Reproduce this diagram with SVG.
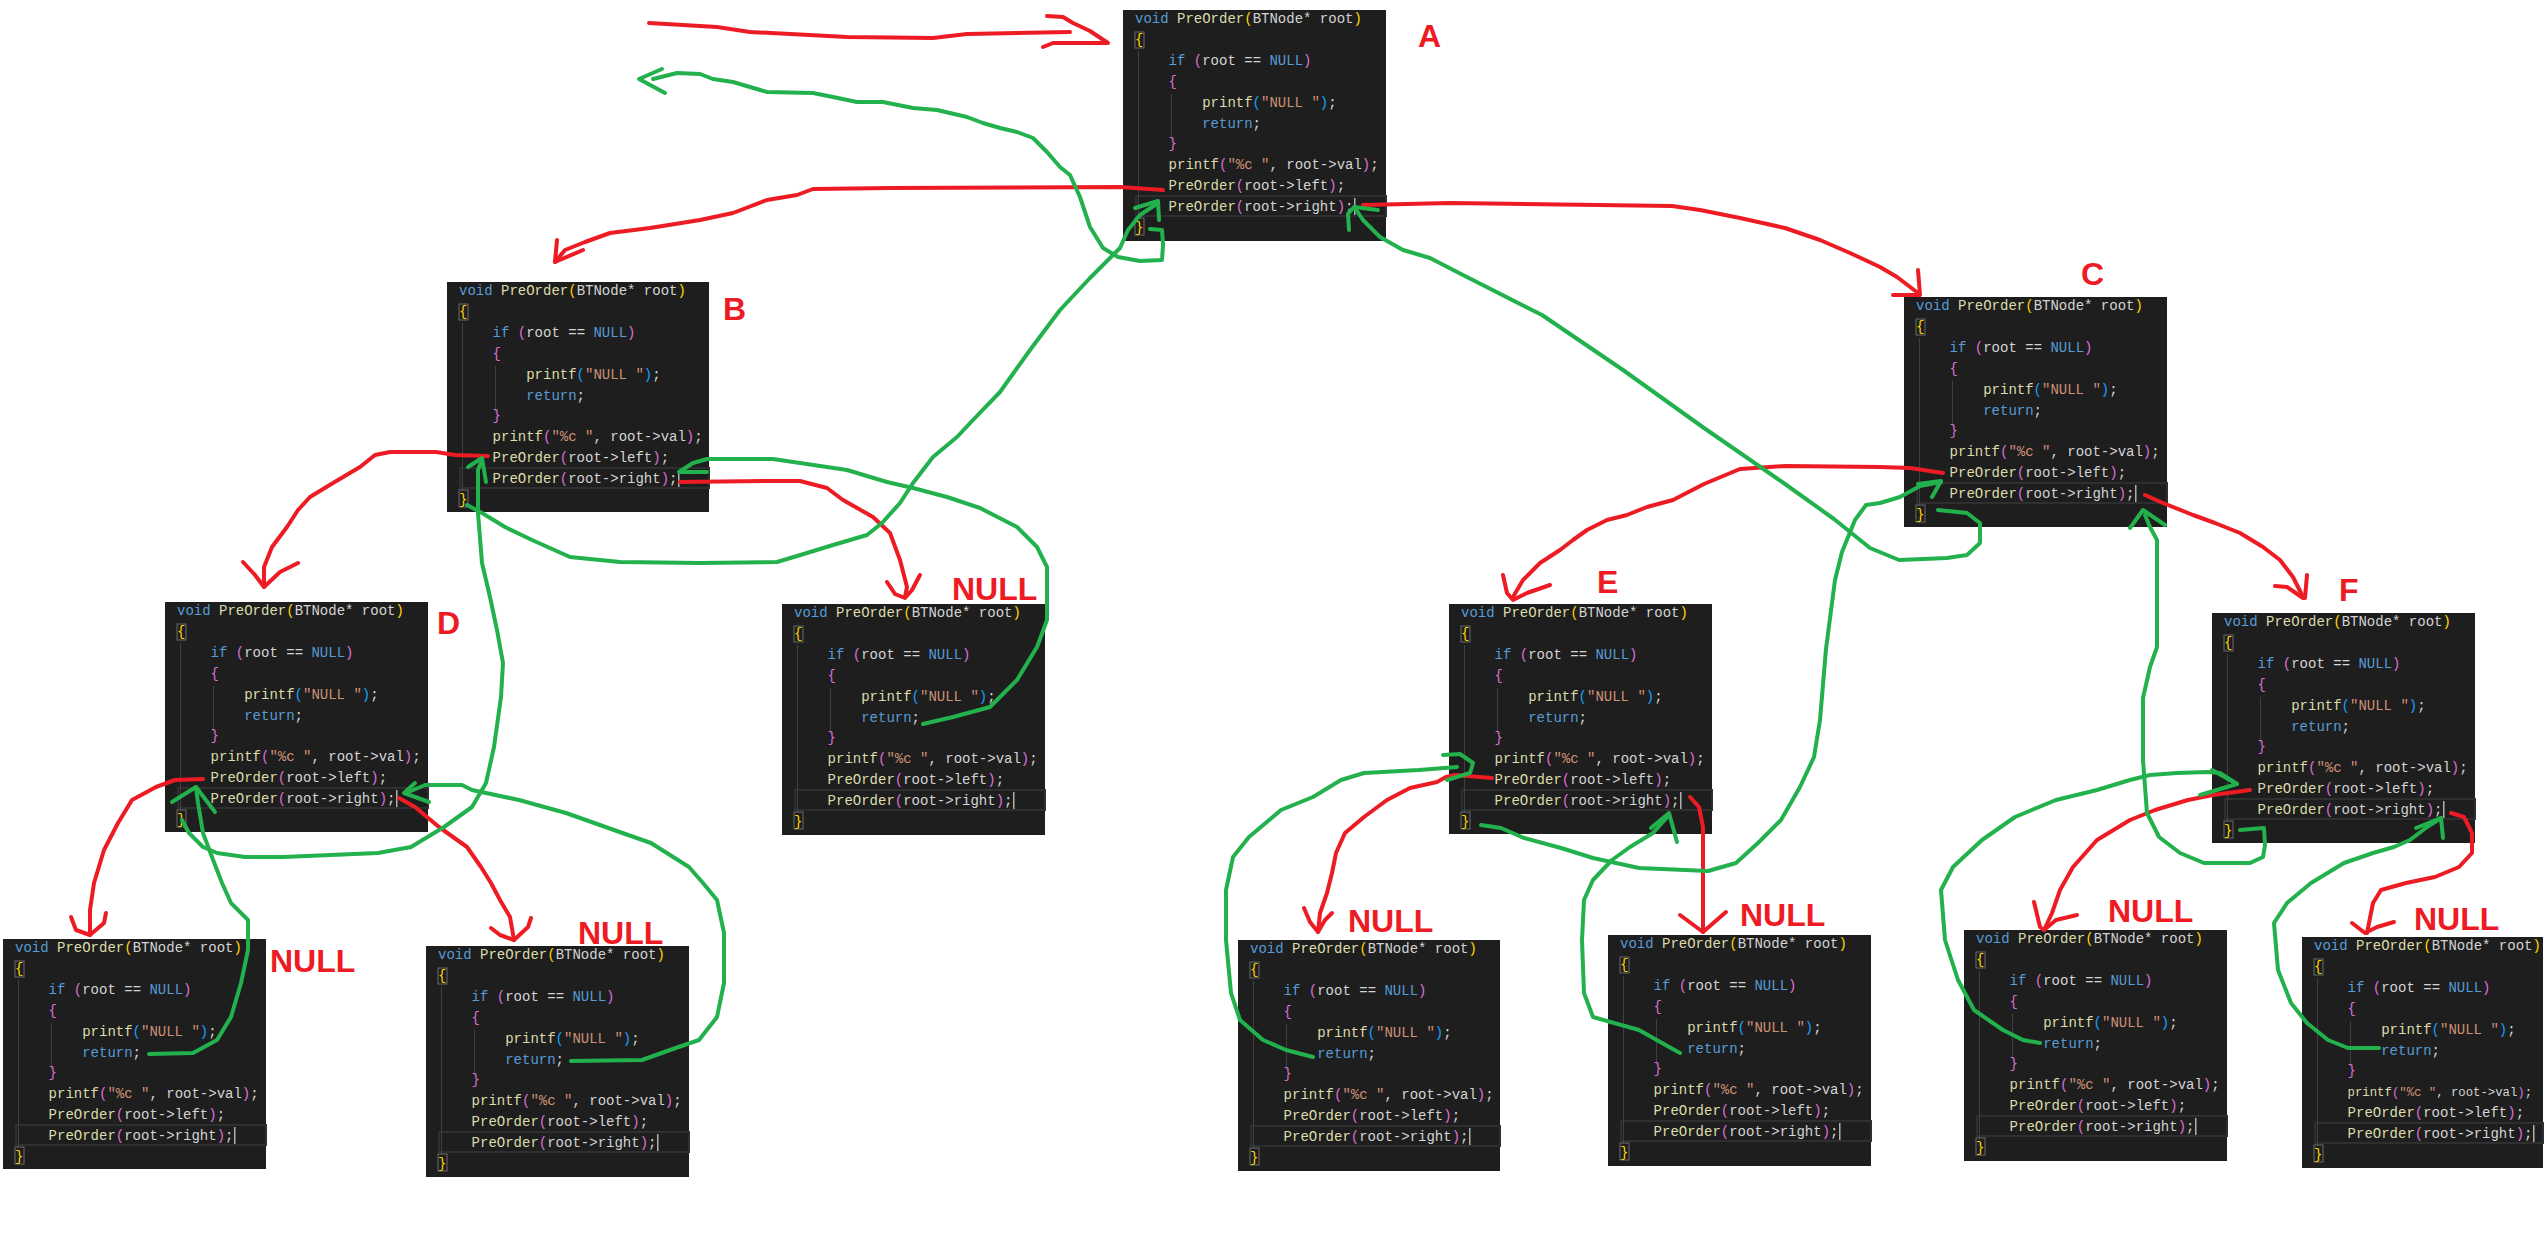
<svg xmlns="http://www.w3.org/2000/svg" xmlns:xlink="http://www.w3.org/1999/xlink" width="2545" height="1255" viewBox="0 0 2545 1255">
<style>
.bg{fill:#1e1e1e}
.cur{fill:none;stroke:#2f2f2f;stroke-width:2}
.guide{stroke:#404040;stroke-width:1;fill:none}
.bm{fill:none;stroke:#6a6a6a;stroke-width:1}
.caret{fill:#aeafad}
.code{font-family:"Liberation Mono","DejaVu Sans Mono",monospace;font-size:14px;fill:#d4d4d4;white-space:pre}
.k{fill:#569cd6}
.f{fill:#dcdcaa}
.b1{fill:#ffd700}
.b2{fill:#da70d6}
.b3{fill:#179fff}
.s{fill:#ce9178}
.lbl{font-family:"Liberation Sans",Arial,sans-serif;font-weight:bold;font-size:32px;fill:#ed1c24}
.r{fill:none;stroke:#ed1c24;stroke-width:4;stroke-linejoin:round;stroke-linecap:round}
.g{fill:none;stroke:#22b14c;stroke-width:4;stroke-linejoin:round;stroke-linecap:round}
</style>
<rect width="2545" height="1255" fill="#ffffff"/>

<g id="node-A">
<g transform="translate(1123,10)">
<rect class="bg" width="263" height="231"/>
<rect class="cur" x="13" y="186" width="250" height="20"/>
<path class="guide" d="M15.5,41V209M48.5,84V130"/>
<rect class="bm" x="12" y="22" width="9" height="16"/><rect class="bm" x="12" y="208" width="9" height="17"/>
<rect class="caret" x="231" y="188" width="1.5" height="17"/>
<text class="code" x="12" y="13"><tspan class="k">void</tspan> <tspan class="f">PreOrder</tspan><tspan class="b1">(</tspan>BTNode* root<tspan class="b1">)</tspan></text>
<text class="code b1" x="12" y="34">{</text>
<text class="code" x="45.6" y="55"><tspan class="k">if</tspan> <tspan class="b2">(</tspan>root == <tspan class="k">NULL</tspan><tspan class="b2">)</tspan></text>
<text class="code b2" x="45.6" y="76">{</text>
<text class="code" x="79.2" y="97"><tspan class="f">printf</tspan><tspan class="b3">(</tspan><tspan class="s">"NULL "</tspan><tspan class="b3">)</tspan>;</text>
<text class="code" x="79.2" y="118"><tspan class="k">return</tspan>;</text>
<text class="code b2" x="45.6" y="138">}</text>
<text class="code" x="45.6" y="159"><tspan class="f">printf</tspan><tspan class="b2">(</tspan><tspan class="s">"%c "</tspan>, root-&gt;val<tspan class="b2">)</tspan>;</text>
<text class="code" x="45.6" y="180"><tspan class="f">PreOrder</tspan><tspan class="b2">(</tspan>root-&gt;left<tspan class="b2">)</tspan>;</text>
<text class="code" x="45.6" y="201"><tspan class="f">PreOrder</tspan><tspan class="b2">(</tspan>root-&gt;right<tspan class="b2">)</tspan>;</text>
<text class="code b1" x="12" y="222">}</text>
</g>
<text class="lbl" x="1418" y="47">A</text>
</g>

<g id="node-B">
<g transform="translate(447,282)">
<rect class="bg" width="262" height="230"/>
<rect class="cur" x="13" y="186" width="249" height="20"/>
<path class="guide" d="M15.5,41V209M48.5,84V130"/>
<rect class="bm" x="12" y="22" width="9" height="16"/><rect class="bm" x="12" y="208" width="9" height="17"/>
<rect class="caret" x="231" y="188" width="1.5" height="17"/>
<text class="code" x="12" y="13"><tspan class="k">void</tspan> <tspan class="f">PreOrder</tspan><tspan class="b1">(</tspan>BTNode* root<tspan class="b1">)</tspan></text>
<text class="code b1" x="12" y="34">{</text>
<text class="code" x="45.6" y="55"><tspan class="k">if</tspan> <tspan class="b2">(</tspan>root == <tspan class="k">NULL</tspan><tspan class="b2">)</tspan></text>
<text class="code b2" x="45.6" y="76">{</text>
<text class="code" x="79.2" y="97"><tspan class="f">printf</tspan><tspan class="b3">(</tspan><tspan class="s">"NULL "</tspan><tspan class="b3">)</tspan>;</text>
<text class="code" x="79.2" y="118"><tspan class="k">return</tspan>;</text>
<text class="code b2" x="45.6" y="138">}</text>
<text class="code" x="45.6" y="159"><tspan class="f">printf</tspan><tspan class="b2">(</tspan><tspan class="s">"%c "</tspan>, root-&gt;val<tspan class="b2">)</tspan>;</text>
<text class="code" x="45.6" y="180"><tspan class="f">PreOrder</tspan><tspan class="b2">(</tspan>root-&gt;left<tspan class="b2">)</tspan>;</text>
<text class="code" x="45.6" y="201"><tspan class="f">PreOrder</tspan><tspan class="b2">(</tspan>root-&gt;right<tspan class="b2">)</tspan>;</text>
<text class="code b1" x="12" y="222">}</text>
</g>
<text class="lbl" x="723" y="320">B</text>
</g>

<g id="node-C">
<g transform="translate(1904,297)">
<rect class="bg" width="263" height="230"/>
<rect class="cur" x="13" y="186" width="250" height="20"/>
<path class="guide" d="M15.5,41V209M48.5,84V130"/>
<rect class="bm" x="12" y="22" width="9" height="16"/><rect class="bm" x="12" y="208" width="9" height="17"/>
<rect class="caret" x="231" y="188" width="1.5" height="17"/>
<text class="code" x="12" y="13"><tspan class="k">void</tspan> <tspan class="f">PreOrder</tspan><tspan class="b1">(</tspan>BTNode* root<tspan class="b1">)</tspan></text>
<text class="code b1" x="12" y="34">{</text>
<text class="code" x="45.6" y="55"><tspan class="k">if</tspan> <tspan class="b2">(</tspan>root == <tspan class="k">NULL</tspan><tspan class="b2">)</tspan></text>
<text class="code b2" x="45.6" y="76">{</text>
<text class="code" x="79.2" y="97"><tspan class="f">printf</tspan><tspan class="b3">(</tspan><tspan class="s">"NULL "</tspan><tspan class="b3">)</tspan>;</text>
<text class="code" x="79.2" y="118"><tspan class="k">return</tspan>;</text>
<text class="code b2" x="45.6" y="138">}</text>
<text class="code" x="45.6" y="159"><tspan class="f">printf</tspan><tspan class="b2">(</tspan><tspan class="s">"%c "</tspan>, root-&gt;val<tspan class="b2">)</tspan>;</text>
<text class="code" x="45.6" y="180"><tspan class="f">PreOrder</tspan><tspan class="b2">(</tspan>root-&gt;left<tspan class="b2">)</tspan>;</text>
<text class="code" x="45.6" y="201"><tspan class="f">PreOrder</tspan><tspan class="b2">(</tspan>root-&gt;right<tspan class="b2">)</tspan>;</text>
<text class="code b1" x="12" y="222">}</text>
</g>
<text class="lbl" x="2081" y="285">C</text>
</g>

<g id="node-D">
<g transform="translate(165,602)">
<rect class="bg" width="263" height="230"/>
<rect class="cur" x="13" y="186" width="250" height="20"/>
<path class="guide" d="M15.5,41V209M48.5,84V130"/>
<rect class="bm" x="12" y="22" width="9" height="16"/><rect class="bm" x="12" y="208" width="9" height="17"/>
<rect class="caret" x="231" y="188" width="1.5" height="17"/>
<text class="code" x="12" y="13"><tspan class="k">void</tspan> <tspan class="f">PreOrder</tspan><tspan class="b1">(</tspan>BTNode* root<tspan class="b1">)</tspan></text>
<text class="code b1" x="12" y="34">{</text>
<text class="code" x="45.6" y="55"><tspan class="k">if</tspan> <tspan class="b2">(</tspan>root == <tspan class="k">NULL</tspan><tspan class="b2">)</tspan></text>
<text class="code b2" x="45.6" y="76">{</text>
<text class="code" x="79.2" y="97"><tspan class="f">printf</tspan><tspan class="b3">(</tspan><tspan class="s">"NULL "</tspan><tspan class="b3">)</tspan>;</text>
<text class="code" x="79.2" y="118"><tspan class="k">return</tspan>;</text>
<text class="code b2" x="45.6" y="138">}</text>
<text class="code" x="45.6" y="159"><tspan class="f">printf</tspan><tspan class="b2">(</tspan><tspan class="s">"%c "</tspan>, root-&gt;val<tspan class="b2">)</tspan>;</text>
<text class="code" x="45.6" y="180"><tspan class="f">PreOrder</tspan><tspan class="b2">(</tspan>root-&gt;left<tspan class="b2">)</tspan>;</text>
<text class="code" x="45.6" y="201"><tspan class="f">PreOrder</tspan><tspan class="b2">(</tspan>root-&gt;right<tspan class="b2">)</tspan>;</text>
<text class="code b1" x="12" y="222">}</text>
</g>
<text class="lbl" x="437" y="634">D</text>
</g>

<g id="node-B-right-null">
<g transform="translate(782,604)">
<rect class="bg" width="263" height="231"/>
<rect class="cur" x="13" y="186" width="250" height="20"/>
<path class="guide" d="M15.5,41V209M48.5,84V130"/>
<rect class="bm" x="12" y="22" width="9" height="16"/><rect class="bm" x="12" y="208" width="9" height="17"/>
<rect class="caret" x="231" y="188" width="1.5" height="17"/>
<text class="code" x="12" y="13"><tspan class="k">void</tspan> <tspan class="f">PreOrder</tspan><tspan class="b1">(</tspan>BTNode* root<tspan class="b1">)</tspan></text>
<text class="code b1" x="12" y="34">{</text>
<text class="code" x="45.6" y="55"><tspan class="k">if</tspan> <tspan class="b2">(</tspan>root == <tspan class="k">NULL</tspan><tspan class="b2">)</tspan></text>
<text class="code b2" x="45.6" y="76">{</text>
<text class="code" x="79.2" y="97"><tspan class="f">printf</tspan><tspan class="b3">(</tspan><tspan class="s">"NULL "</tspan><tspan class="b3">)</tspan>;</text>
<text class="code" x="79.2" y="118"><tspan class="k">return</tspan>;</text>
<text class="code b2" x="45.6" y="138">}</text>
<text class="code" x="45.6" y="159"><tspan class="f">printf</tspan><tspan class="b2">(</tspan><tspan class="s">"%c "</tspan>, root-&gt;val<tspan class="b2">)</tspan>;</text>
<text class="code" x="45.6" y="180"><tspan class="f">PreOrder</tspan><tspan class="b2">(</tspan>root-&gt;left<tspan class="b2">)</tspan>;</text>
<text class="code" x="45.6" y="201"><tspan class="f">PreOrder</tspan><tspan class="b2">(</tspan>root-&gt;right<tspan class="b2">)</tspan>;</text>
<text class="code b1" x="12" y="222">}</text>
</g>
<text class="lbl" x="952" y="600">NULL</text>
</g>

<g id="node-E">
<g transform="translate(1449,604)">
<rect class="bg" width="263" height="230"/>
<rect class="cur" x="13" y="186" width="250" height="20"/>
<path class="guide" d="M15.5,41V209M48.5,84V130"/>
<rect class="bm" x="12" y="22" width="9" height="16"/><rect class="bm" x="12" y="208" width="9" height="17"/>
<rect class="caret" x="231" y="188" width="1.5" height="17"/>
<text class="code" x="12" y="13"><tspan class="k">void</tspan> <tspan class="f">PreOrder</tspan><tspan class="b1">(</tspan>BTNode* root<tspan class="b1">)</tspan></text>
<text class="code b1" x="12" y="34">{</text>
<text class="code" x="45.6" y="55"><tspan class="k">if</tspan> <tspan class="b2">(</tspan>root == <tspan class="k">NULL</tspan><tspan class="b2">)</tspan></text>
<text class="code b2" x="45.6" y="76">{</text>
<text class="code" x="79.2" y="97"><tspan class="f">printf</tspan><tspan class="b3">(</tspan><tspan class="s">"NULL "</tspan><tspan class="b3">)</tspan>;</text>
<text class="code" x="79.2" y="118"><tspan class="k">return</tspan>;</text>
<text class="code b2" x="45.6" y="138">}</text>
<text class="code" x="45.6" y="159"><tspan class="f">printf</tspan><tspan class="b2">(</tspan><tspan class="s">"%c "</tspan>, root-&gt;val<tspan class="b2">)</tspan>;</text>
<text class="code" x="45.6" y="180"><tspan class="f">PreOrder</tspan><tspan class="b2">(</tspan>root-&gt;left<tspan class="b2">)</tspan>;</text>
<text class="code" x="45.6" y="201"><tspan class="f">PreOrder</tspan><tspan class="b2">(</tspan>root-&gt;right<tspan class="b2">)</tspan>;</text>
<text class="code b1" x="12" y="222">}</text>
</g>
<text class="lbl" x="1597" y="593">E</text>
</g>

<g id="node-F">
<g transform="translate(2212,613)">
<rect class="bg" width="263" height="230"/>
<rect class="cur" x="13" y="186" width="250" height="20"/>
<path class="guide" d="M15.5,41V209M48.5,84V130"/>
<rect class="bm" x="12" y="22" width="9" height="16"/><rect class="bm" x="12" y="208" width="9" height="17"/>
<rect class="caret" x="231" y="188" width="1.5" height="17"/>
<text class="code" x="12" y="13"><tspan class="k">void</tspan> <tspan class="f">PreOrder</tspan><tspan class="b1">(</tspan>BTNode* root<tspan class="b1">)</tspan></text>
<text class="code b1" x="12" y="34">{</text>
<text class="code" x="45.6" y="55"><tspan class="k">if</tspan> <tspan class="b2">(</tspan>root == <tspan class="k">NULL</tspan><tspan class="b2">)</tspan></text>
<text class="code b2" x="45.6" y="76">{</text>
<text class="code" x="79.2" y="97"><tspan class="f">printf</tspan><tspan class="b3">(</tspan><tspan class="s">"NULL "</tspan><tspan class="b3">)</tspan>;</text>
<text class="code" x="79.2" y="118"><tspan class="k">return</tspan>;</text>
<text class="code b2" x="45.6" y="138">}</text>
<text class="code" x="45.6" y="159"><tspan class="f">printf</tspan><tspan class="b2">(</tspan><tspan class="s">"%c "</tspan>, root-&gt;val<tspan class="b2">)</tspan>;</text>
<text class="code" x="45.6" y="180"><tspan class="f">PreOrder</tspan><tspan class="b2">(</tspan>root-&gt;left<tspan class="b2">)</tspan>;</text>
<text class="code" x="45.6" y="201"><tspan class="f">PreOrder</tspan><tspan class="b2">(</tspan>root-&gt;right<tspan class="b2">)</tspan>;</text>
<text class="code b1" x="12" y="222">}</text>
</g>
<text class="lbl" x="2339" y="601">F</text>
</g>

<g id="node-D-left-null">
<g transform="translate(3,939)">
<rect class="bg" width="263" height="230"/>
<rect class="cur" x="13" y="186" width="250" height="20"/>
<path class="guide" d="M15.5,41V209M48.5,84V130"/>
<rect class="bm" x="12" y="22" width="9" height="16"/><rect class="bm" x="12" y="208" width="9" height="17"/>
<rect class="caret" x="231" y="188" width="1.5" height="17"/>
<text class="code" x="12" y="13"><tspan class="k">void</tspan> <tspan class="f">PreOrder</tspan><tspan class="b1">(</tspan>BTNode* root<tspan class="b1">)</tspan></text>
<text class="code b1" x="12" y="34">{</text>
<text class="code" x="45.6" y="55"><tspan class="k">if</tspan> <tspan class="b2">(</tspan>root == <tspan class="k">NULL</tspan><tspan class="b2">)</tspan></text>
<text class="code b2" x="45.6" y="76">{</text>
<text class="code" x="79.2" y="97"><tspan class="f">printf</tspan><tspan class="b3">(</tspan><tspan class="s">"NULL "</tspan><tspan class="b3">)</tspan>;</text>
<text class="code" x="79.2" y="118"><tspan class="k">return</tspan>;</text>
<text class="code b2" x="45.6" y="138">}</text>
<text class="code" x="45.6" y="159"><tspan class="f">printf</tspan><tspan class="b2">(</tspan><tspan class="s">"%c "</tspan>, root-&gt;val<tspan class="b2">)</tspan>;</text>
<text class="code" x="45.6" y="180"><tspan class="f">PreOrder</tspan><tspan class="b2">(</tspan>root-&gt;left<tspan class="b2">)</tspan>;</text>
<text class="code" x="45.6" y="201"><tspan class="f">PreOrder</tspan><tspan class="b2">(</tspan>root-&gt;right<tspan class="b2">)</tspan>;</text>
<text class="code b1" x="12" y="222">}</text>
</g>
<text class="lbl" x="270" y="972">NULL</text>
</g>

<g id="node-D-right-null">
<g transform="translate(426,946)">
<rect class="bg" width="263" height="231"/>
<rect class="cur" x="13" y="186" width="250" height="20"/>
<path class="guide" d="M15.5,41V209M48.5,84V130"/>
<rect class="bm" x="12" y="22" width="9" height="16"/><rect class="bm" x="12" y="208" width="9" height="17"/>
<rect class="caret" x="231" y="188" width="1.5" height="17"/>
<text class="code" x="12" y="13"><tspan class="k">void</tspan> <tspan class="f">PreOrder</tspan><tspan class="b1">(</tspan>BTNode* root<tspan class="b1">)</tspan></text>
<text class="code b1" x="12" y="34">{</text>
<text class="code" x="45.6" y="55"><tspan class="k">if</tspan> <tspan class="b2">(</tspan>root == <tspan class="k">NULL</tspan><tspan class="b2">)</tspan></text>
<text class="code b2" x="45.6" y="76">{</text>
<text class="code" x="79.2" y="97"><tspan class="f">printf</tspan><tspan class="b3">(</tspan><tspan class="s">"NULL "</tspan><tspan class="b3">)</tspan>;</text>
<text class="code" x="79.2" y="118"><tspan class="k">return</tspan>;</text>
<text class="code b2" x="45.6" y="138">}</text>
<text class="code" x="45.6" y="159"><tspan class="f">printf</tspan><tspan class="b2">(</tspan><tspan class="s">"%c "</tspan>, root-&gt;val<tspan class="b2">)</tspan>;</text>
<text class="code" x="45.6" y="180"><tspan class="f">PreOrder</tspan><tspan class="b2">(</tspan>root-&gt;left<tspan class="b2">)</tspan>;</text>
<text class="code" x="45.6" y="201"><tspan class="f">PreOrder</tspan><tspan class="b2">(</tspan>root-&gt;right<tspan class="b2">)</tspan>;</text>
<text class="code b1" x="12" y="222">}</text>
</g>
<text class="lbl" x="578" y="944">NULL</text>
</g>

<g id="node-E-left-null">
<g transform="translate(1238,940)">
<rect class="bg" width="262" height="231"/>
<rect class="cur" x="13" y="186" width="249" height="20"/>
<path class="guide" d="M15.5,41V209M48.5,84V130"/>
<rect class="bm" x="12" y="22" width="9" height="16"/><rect class="bm" x="12" y="208" width="9" height="17"/>
<rect class="caret" x="231" y="188" width="1.5" height="17"/>
<text class="code" x="12" y="13"><tspan class="k">void</tspan> <tspan class="f">PreOrder</tspan><tspan class="b1">(</tspan>BTNode* root<tspan class="b1">)</tspan></text>
<text class="code b1" x="12" y="34">{</text>
<text class="code" x="45.6" y="55"><tspan class="k">if</tspan> <tspan class="b2">(</tspan>root == <tspan class="k">NULL</tspan><tspan class="b2">)</tspan></text>
<text class="code b2" x="45.6" y="76">{</text>
<text class="code" x="79.2" y="97"><tspan class="f">printf</tspan><tspan class="b3">(</tspan><tspan class="s">"NULL "</tspan><tspan class="b3">)</tspan>;</text>
<text class="code" x="79.2" y="118"><tspan class="k">return</tspan>;</text>
<text class="code b2" x="45.6" y="138">}</text>
<text class="code" x="45.6" y="159"><tspan class="f">printf</tspan><tspan class="b2">(</tspan><tspan class="s">"%c "</tspan>, root-&gt;val<tspan class="b2">)</tspan>;</text>
<text class="code" x="45.6" y="180"><tspan class="f">PreOrder</tspan><tspan class="b2">(</tspan>root-&gt;left<tspan class="b2">)</tspan>;</text>
<text class="code" x="45.6" y="201"><tspan class="f">PreOrder</tspan><tspan class="b2">(</tspan>root-&gt;right<tspan class="b2">)</tspan>;</text>
<text class="code b1" x="12" y="222">}</text>
</g>
<text class="lbl" x="1348" y="932">NULL</text>
</g>

<g id="node-E-right-null">
<g transform="translate(1608,935)">
<rect class="bg" width="263" height="231"/>
<rect class="cur" x="13" y="186" width="250" height="20"/>
<path class="guide" d="M15.5,41V209M48.5,84V130"/>
<rect class="bm" x="12" y="22" width="9" height="16"/><rect class="bm" x="12" y="208" width="9" height="17"/>
<rect class="caret" x="231" y="188" width="1.5" height="17"/>
<text class="code" x="12" y="13"><tspan class="k">void</tspan> <tspan class="f">PreOrder</tspan><tspan class="b1">(</tspan>BTNode* root<tspan class="b1">)</tspan></text>
<text class="code b1" x="12" y="34">{</text>
<text class="code" x="45.6" y="55"><tspan class="k">if</tspan> <tspan class="b2">(</tspan>root == <tspan class="k">NULL</tspan><tspan class="b2">)</tspan></text>
<text class="code b2" x="45.6" y="76">{</text>
<text class="code" x="79.2" y="97"><tspan class="f">printf</tspan><tspan class="b3">(</tspan><tspan class="s">"NULL "</tspan><tspan class="b3">)</tspan>;</text>
<text class="code" x="79.2" y="118"><tspan class="k">return</tspan>;</text>
<text class="code b2" x="45.6" y="138">}</text>
<text class="code" x="45.6" y="159"><tspan class="f">printf</tspan><tspan class="b2">(</tspan><tspan class="s">"%c "</tspan>, root-&gt;val<tspan class="b2">)</tspan>;</text>
<text class="code" x="45.6" y="180"><tspan class="f">PreOrder</tspan><tspan class="b2">(</tspan>root-&gt;left<tspan class="b2">)</tspan>;</text>
<text class="code" x="45.6" y="201"><tspan class="f">PreOrder</tspan><tspan class="b2">(</tspan>root-&gt;right<tspan class="b2">)</tspan>;</text>
<text class="code b1" x="12" y="222">}</text>
</g>
<text class="lbl" x="1740" y="926">NULL</text>
</g>

<g id="node-F-left-null">
<g transform="translate(1964,930)">
<rect class="bg" width="263" height="231"/>
<rect class="cur" x="13" y="186" width="250" height="20"/>
<path class="guide" d="M15.5,41V209M48.5,84V130"/>
<rect class="bm" x="12" y="22" width="9" height="16"/><rect class="bm" x="12" y="208" width="9" height="17"/>
<rect class="caret" x="231" y="188" width="1.5" height="17"/>
<text class="code" x="12" y="13"><tspan class="k">void</tspan> <tspan class="f">PreOrder</tspan><tspan class="b1">(</tspan>BTNode* root<tspan class="b1">)</tspan></text>
<text class="code b1" x="12" y="34">{</text>
<text class="code" x="45.6" y="55"><tspan class="k">if</tspan> <tspan class="b2">(</tspan>root == <tspan class="k">NULL</tspan><tspan class="b2">)</tspan></text>
<text class="code b2" x="45.6" y="76">{</text>
<text class="code" x="79.2" y="97"><tspan class="f">printf</tspan><tspan class="b3">(</tspan><tspan class="s">"NULL "</tspan><tspan class="b3">)</tspan>;</text>
<text class="code" x="79.2" y="118"><tspan class="k">return</tspan>;</text>
<text class="code b2" x="45.6" y="138">}</text>
<text class="code" x="45.6" y="159"><tspan class="f">printf</tspan><tspan class="b2">(</tspan><tspan class="s">"%c "</tspan>, root-&gt;val<tspan class="b2">)</tspan>;</text>
<text class="code" x="45.6" y="180"><tspan class="f">PreOrder</tspan><tspan class="b2">(</tspan>root-&gt;left<tspan class="b2">)</tspan>;</text>
<text class="code" x="45.6" y="201"><tspan class="f">PreOrder</tspan><tspan class="b2">(</tspan>root-&gt;right<tspan class="b2">)</tspan>;</text>
<text class="code b1" x="12" y="222">}</text>
</g>
<text class="lbl" x="2108" y="922">NULL</text>
</g>

<g id="node-F-right-null">
<g transform="translate(2302,937)">
<rect class="bg" width="241" height="231"/>
<rect class="cur" x="13" y="186" width="228" height="20"/>
<path class="guide" d="M15.5,41V209M48.5,84V130"/>
<rect class="bm" x="12" y="22" width="9" height="16"/><rect class="bm" x="12" y="208" width="9" height="17"/>
<rect class="caret" x="231" y="188" width="1.5" height="17"/>
<text class="code" x="12" y="13"><tspan class="k">void</tspan> <tspan class="f">PreOrder</tspan><tspan class="b1">(</tspan>BTNode* root<tspan class="b1">)</tspan></text>
<text class="code b1" x="12" y="34">{</text>
<text class="code" x="45.6" y="55"><tspan class="k">if</tspan> <tspan class="b2">(</tspan>root == <tspan class="k">NULL</tspan><tspan class="b2">)</tspan></text>
<text class="code b2" x="45.6" y="76">{</text>
<text class="code" x="79.2" y="97"><tspan class="f">printf</tspan><tspan class="b3">(</tspan><tspan class="s">"NULL "</tspan><tspan class="b3">)</tspan>;</text>
<text class="code" x="79.2" y="118"><tspan class="k">return</tspan>;</text>
<text class="code b2" x="45.6" y="138">}</text>
<text class="code" x="45.6" y="159" style="font-size:12.3px"><tspan class="f">printf</tspan><tspan class="b2">(</tspan><tspan class="s">"%c "</tspan>, root-&gt;val<tspan class="b2">)</tspan>;</text>
<text class="code" x="45.6" y="180"><tspan class="f">PreOrder</tspan><tspan class="b2">(</tspan>root-&gt;left<tspan class="b2">)</tspan>;</text>
<text class="code" x="45.6" y="201"><tspan class="f">PreOrder</tspan><tspan class="b2">(</tspan>root-&gt;right<tspan class="b2">)</tspan>;</text>
<text class="code b1" x="12" y="222">}</text>
</g>
<text class="lbl" x="2414" y="930">NULL</text>
</g>

<g id="connectors">
<path class="r" d="M649,23 L717,27 L750,32 L847,37 L933,38 L967,34 L1070,32"/>
<path class="r" d="M1047,16 L1063,17 L1073,23 L1090,31 L1108,43 M1043,47 L1053,43 L1108,43"/>
<path class="r" d="M1163,190 L1120,187 L890,188 L813,189 L797,195 L767,200 L733,213 L700,220 L650,228 L610,233 L585,242 L565,250 L555,262"/>
<path class="r" d="M557,240 L555,262 L583,250"/>
<path class="r" d="M1363,205 L1450,203 L1672,206 L1700,210 L1740,218 L1785,228 L1820,240 L1850,253 L1880,267 L1897,277 L1918,293"/>
<path class="r" d="M1918,270 L1920,295 L1893,295"/>
<path class="r" d="M488,456 L455,455 L436,452 L390,452 L375,455 L360,467 L333,483 L310,497 L298,510 L287,527 L272,547 L264,567 L264,587"/>
<path class="r" d="M243,562 L255,575 L264,587 L280,572 L298,563"/>
<path class="r" d="M680,482 L770,481 L800,481 L827,488 L843,500 L873,517 L890,533 L900,560 L907,587 L905,597"/>
<path class="r" d="M887,582 L895,594 L905,598 L912,590 L920,575"/>
<path class="r" d="M203,779 L175,780 L156,787 L132,800 L118,823 L104,850 L94,883 L90,910 L90,935"/>
<path class="r" d="M71,917 L76,930 L90,935 L104,923 L106,913"/>
<path class="r" d="M399,798 L415,807 L439,827 L467,847 L481,867 L491,883 L500,900 L510,917 L514,940"/>
<path class="r" d="M491,928 L500,935 L514,940 L528,927 L531,918"/>
<path class="r" d="M1943,473 L1910,468 L1880,467 L1785,466 L1740,469 L1704,484 L1673,500 L1647,507 L1627,515 L1607,520 L1587,530 L1573,540 L1560,550 L1540,563 L1523,580 L1513,597"/>
<path class="r" d="M1503,575 L1507,593 L1513,600 L1527,593 L1550,585"/>
<path class="r" d="M2145,495 L2163,503 L2193,515 L2215,523 L2240,533 L2263,547 L2280,560 L2293,577 L2303,597"/>
<path class="r" d="M2275,586 L2287,587 L2303,598 M2307,575 L2305,598"/>
<path class="r" d="M1492,778 L1455,775 L1446,777 L1437,782 L1410,788 L1387,800 L1364,817 L1345,833 L1336,853 L1332,873 L1327,893 L1320,913 L1318,932"/>
<path class="r" d="M1304,908 L1310,922 L1318,932 L1325,920 L1332,913"/>
<path class="r" d="M1690,797 L1699,807 L1703,827 L1703,873 L1703,932"/>
<path class="r" d="M1680,915 L1703,932 L1726,912"/>
<path class="r" d="M2250,790 L2213,795 L2188,800 L2155,810 L2130,820 L2097,840 L2073,867 L2060,890 L2052,913 L2044,930"/>
<path class="r" d="M2034,902 L2040,927 L2044,930 L2056,920 L2077,915"/>
<path class="r" d="M2451,813 L2464,817 L2472,833 L2472,853 L2459,867 L2435,877 L2406,883 L2381,890 L2373,903 L2369,923 L2367,933"/>
<path class="r" d="M2352,923 L2365,933 L2377,927 L2394,922"/>
<path class="g" d="M1150,229 L1162,230 L1163,245 L1162,260 L1140,261 L1118,257 L1103,248 L1090,227 L1080,197 L1070,175 L1060,167 L1047,152 L1033,138 L1017,132 L1000,128 L983,123 L967,117 L937,110 L913,108 L883,102 L857,102 L833,97 L813,93 L767,92 L750,87 L733,82 L713,79 L700,74 L677,73 L653,79"/>
<path class="g" d="M662,69 L639,79 L665,93"/>
<path class="g" d="M1938,510 L1967,513 L1980,523 L1980,543 L1967,555 L1947,558 L1899,560 L1870,548 L1834,519 L1785,484 L1704,428 L1623,370 L1542,315 L1461,274 L1430,258 L1403,250 L1380,237 L1363,220 L1355,208"/>
<path class="g" d="M1349,230 L1348,214 L1354,207 L1378,210"/>
<path class="g" d="M467,505 L482,513 L505,527 L532,540 L570,557 L620,562 L700,563 L777,562 L807,553 L833,545 L867,535 L882,523 L900,503 L913,483 L933,457 L957,437 L973,420 L1000,392 L1030,350 L1060,310 L1090,278 L1110,258 L1120,248 L1128,230 L1140,215 L1158,203"/>
<path class="g" d="M1135,208 L1158,201 L1159,220"/>
<path class="g" d="M182,820 L189,833 L203,847 L217,853 L245,857 L283,857 L307,856 L378,853 L411,847 L444,827 L472,807 L486,783 L494,747 L501,697 L503,663 L497,630 L490,597 L482,563 L478,513 L478,470 L482,460"/>
<path class="g" d="M468,467 L482,458 L486,482"/>
<path class="g" d="M923,724 L953,717 L990,707 L1017,680 L1037,647 L1047,620 L1047,567 L1037,547 L1017,527 L980,508 L947,497 L913,488 L887,482 L847,470 L800,463 L773,459 L707,459 L693,463 L679,472 L707,472"/>
<path class="g" d="M149,1054 L193,1053 L217,1040 L231,1017 L241,983 L248,950 L248,920 L231,903 L222,883 L212,857 L203,833 L198,803 L196,787"/>
<path class="g" d="M172,802 L196,787 L215,812"/>
<path class="g" d="M571,1061 L642,1060 L670,1050 L699,1040 L717,1017 L724,983 L724,933 L717,900 L703,883 L689,867 L651,843 L614,830 L566,813 L519,800 L472,790 L462,785 L425,785 L406,793"/>
<path class="g" d="M415,783 L404,793 L429,802"/>
<path class="g" d="M1481,825 L1501,828 L1524,838 L1561,848 L1593,858 L1639,868 L1708,871 L1736,863 L1758,843 L1781,820 L1800,787 L1814,757 L1820,720 L1826,649 L1835,580 L1842,552 L1855,520 L1866,505 L1880,503 L1900,497 L1920,486 L1941,482"/>
<path class="g" d="M1918,484 L1941,481 L1932,497"/>
<path class="g" d="M1313,1057 L1286,1050 L1263,1040 L1240,1020 L1231,993 L1226,940 L1226,890 L1233,857 L1249,837 L1281,810 L1313,797 L1341,780 L1364,773 L1419,770 L1457,767"/>
<path class="g" d="M1443,755 L1460,754 L1473,763 L1470,773 L1447,780"/>
<path class="g" d="M1680,1053 L1662,1043 L1639,1030 L1593,1017 L1584,993 L1582,940 L1584,900 L1593,880 L1612,860 L1630,847 L1653,833 L1669,815"/>
<path class="g" d="M1651,828 L1669,813 L1677,842"/>
<path class="g" d="M2240,830 L2264,828 L2265,845 L2263,857 L2250,863 L2204,863 L2180,853 L2159,837 L2147,813 L2143,760 L2143,698 L2150,667 L2157,647 L2157,540 L2150,527 L2145,515"/>
<path class="g" d="M2130,528 L2143,510 L2165,525"/>
<path class="g" d="M2040,1043 L2023,1040 L2003,1030 L1974,1010 L1958,980 L1945,940 L1941,890 L1953,867 L1982,840 L2015,817 L2056,800 L2097,790 L2130,780 L2150,775 L2177,773 L2207,772 L2220,773 L2237,784"/>
<path class="g" d="M2212,770 L2237,784 L2200,795"/>
<path class="g" d="M2379,1048 L2348,1048 L2328,1040 L2307,1023 L2291,1003 L2278,970 L2274,923 L2287,903 L2311,883 L2344,863 L2373,853 L2394,847 L2410,840 L2427,827 L2441,818"/>
<path class="g" d="M2416,828 L2441,818 L2443,838"/>
</g>
</svg>
